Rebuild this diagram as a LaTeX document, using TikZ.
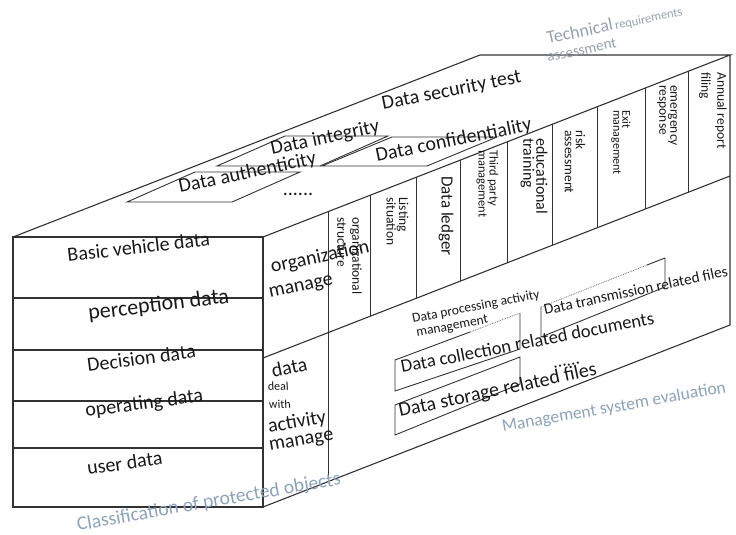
\documentclass[tikz,border=0pt]{standalone}
\usepackage{fontspec}
\setmainfont{Carlito}
\definecolor{ln}{RGB}{50,50,50}
\definecolor{tx}{RGB}{25,25,25}
\definecolor{labc}{RGB}{140,162,190}
\definecolor{labt}{RGB}{150,160,175}
\begin{document}
\begin{tikzpicture}[x=1pt,y=-1pt,
  edge/.style={draw=ln, line width=1.1pt},
  thinln/.style={draw=ln, line width=0.9pt},
  dotln/.style={draw=ln!70, line width=0.8pt, densely dotted},
  txt/.style={text=tx, inner sep=0pt, anchor=base west},
  big/.style={txt, font=\fontsize{20}{22}\selectfont},
  col/.style={text=tx, inner sep=0pt, rotate=-90, anchor=west, align=left},
  lab/.style={text=labc, inner sep=0pt, anchor=base west}
]
\useasboundingbox (0,0) rectangle (736,535);
% box corners
\coordinate (FTL) at (13,237);
\coordinate (FTR) at (263,237);
\coordinate (FBR) at (263,507);
\coordinate (FBL) at (13,507);
\coordinate (BTL) at (480,55);
\coordinate (BTR) at (730,55);
\coordinate (BBR) at (730,325);
\coordinate (ML) at (263,358);
\coordinate (MR) at (730,176);
% outline
\draw[edge] (FTL) -- (FTR) -- (FBR) -- (FBL) -- cycle;
\draw[edge] (FTL) -- (BTL) -- (BTR) -- (FTR);
\draw[edge] (BTR) -- (BBR) -- (FBR);
\draw[edge] (ML) -- (MR);
\foreach \yy in {298,350,401,448} \draw[edge] (13,\yy) -- (263,\yy);
% side verticals
\draw[thinln] (328,211.7) -- (328,479);
\foreach \xx/\tt/\bb in {370/195.3/316.3, 416/177.4/298.4, 460/160.2/281.2, 507/141.9/262.9, 552/124.4/245.4, 597/106.8/227.8, 645/88.1/209.1, 688/71.4/192.4}
  \draw[thinln] (\xx,\tt) -- (\xx,\bb);
% top face parallelograms
\draw[thinln] (127,202) -- (232,202) -- (300,172) -- (195,172) -- cycle;
\draw[thinln] (217,166) -- (320,166) -- (388,136) -- (285,136) -- cycle;
\draw[thinln] (322,166) -- (427,166) -- (497,137) -- (392,137) -- cycle;
% side face boxes
\draw[thinln] (470,332) -- (395,360) -- (395,391) -- (520,349) -- (520,313);
\draw[dotln] (470,332) -- (520,313);
\draw[thinln] (395,405) -- (520,357) -- (520,384) -- (395,435) -- cycle;
\draw[thinln] (647,265) -- (665,258) -- (665,287) -- (541,337) -- (541,307);
\draw[dotln] (541,307) -- (647,265);
% top face texts
\node[big, rotate=11.3] (dst) at (383,110) {Data security test};
\node[big, rotate=12] (din) at (272,155) {Data integrity};
\node[big, rotate=12] (dau) at (180,193) {Data authenticity};
\node[big, rotate=11.6] (dco) at (377,162) {Data confidentiality};
\node[big, anchor=base] (dots1) at (298,195) {......};
% front texts
\node[big, rotate=6.5] (bvd) at (68,262) {Basic vehicle data};
\node[txt, font=\fontsize{22}{24}\selectfont, rotate=7] (pd) at (89,320) {perception data};
\node[big, rotate=7.5] (dd) at (88,372) {Decision data};
\node[big, rotate=7.5] (od) at (86,417) {operating data};
\node[big, rotate=8] (ud) at (88,475) {user data};
% side labels
\node[big, rotate=12] (org1) at (272,273) {organization};
\node[big, rotate=12] (org2) at (270,298) {manage};
\node[big, rotate=12] (dp1) at (273,378) {data};
\node[txt, font=\fontsize{12}{13}\selectfont, rotate=3] (dp2) at (268,391) {deal};
\node[txt, font=\fontsize{12}{13}\selectfont, rotate=3] (dp3) at (269,409) {with};
\node[big, rotate=10] (dp4) at (269,433) {activity};
\node[big, rotate=10] (dp5) at (270,451) {manage};
% columns
\node[col, font=\fontsize{13.5}{15}\selectfont] (c1) at (349.5,217) {organizational\\structure};
\node[col, font=\fontsize{13.5}{11}\selectfont] (c2) at (397.5,197) {Listing\\situation};
\node[col, font=\fontsize{17}{17}\selectfont] (c3) at (446,176) {Data ledger};
\node[col, font=\fontsize{12.5}{11}\selectfont] (c4) at (487.5,150) {Third party\\management};
\node[col, font=\fontsize{16}{13}\selectfont] (c5) at (534,138) {educational\\training};
\node[col, font=\fontsize{13.5}{11}\selectfont] (c6) at (575,130) {risk\\assessment};
\node[col, font=\fontsize{12}{9}\selectfont] (c7) at (621,110) {Exit\\management};
\node[col, font=\fontsize{13.5}{11}\selectfont] (c8) at (667,85) {emergency\\response};
\node[col, font=\fontsize{13.5}{16}\selectfont] (c9) at (713,72) {Annual report\\filing};
% lower side texts
\node[txt, font=\fontsize{13.5}{14}\selectfont, rotate=11] (dpa1) at (413,323) {Data processing activity};
\node[txt, font=\fontsize{13.5}{14}\selectfont, rotate=11] (dpa2) at (417,337) {management};
\node[txt, font=\fontsize{18.5}{20}\selectfont, rotate=11] (dcr) at (402,373) {Data collection related documents};
\node[big, rotate=12] (dsr) at (400,417) {Data storage related files};
\node[txt, font=\fontsize{15.3}{18}\selectfont, rotate=12] (dtr) at (545,315) {Data transmission related files};
\node[txt, font=\fontsize{18}{20}\selectfont, anchor=base, rotate=11] (dots2) at (567,366) {......};
% grey-blue labels
\node[lab, font=\fontsize{17.5}{20}\selectfont, rotate=10] (mse) at (503,432) {Management system evaluation};
\node[lab, font=\fontsize{19.5}{22}\selectfont, rotate=10] (cpo) at (78,531) {Classification of protected objects};
\node[lab, text=labt, rotate=12] (tra1) at (548,44) {{\fontsize{18}{20}\selectfont Technical} {\fontsize{12.5}{14}\selectfont requirements}};
\node[lab, text=labt, font=\fontsize{15}{17}\selectfont, rotate=12] (tra2) at (548,62) {assessment};
\end{tikzpicture}
\end{document}
